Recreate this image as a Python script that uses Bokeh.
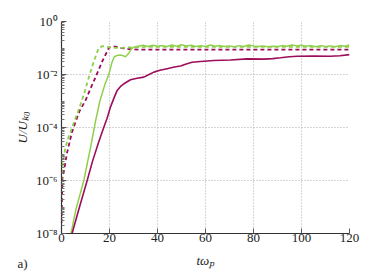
import numpy as np
from bokeh.plotting import figure
from bokeh.models import FixedTicker, CustomJSTickFormatter, Title, Range1d
from bokeh.embed import file_html
from bokeh.resources import INLINE

# ---- data (log10 of U/U_k0) ----
t_green_solid = [3.5, 6, 9.3, 12, 14.2, 16, 18, 19.7, 21, 22, 23.5, 25, 26.7, 28, 29, 30,
                 32, 34, 36, 38, 40, 42, 44, 46, 48, 50, 52, 54, 56, 58, 60, 62, 64, 66, 68,
                 70, 72, 74, 76, 78, 80, 82, 84, 86, 88, 90, 92, 94, 96, 98, 100, 102, 104,
                 106, 108, 110, 112, 114, 116, 118, 120]
lg_green_solid = [-8.2, -7.1, -6.0, -4.8, -3.75, -3.0, -2.4, -2.0, -1.55, -1.33, -1.27, -1.27,
                  -1.33, -1.2, -1.05, -0.97,
                  -0.93, -0.90, -0.94, -0.90, -0.93, -0.91, -0.94, -0.89, -0.93, -0.88, -0.92,
                  -0.90, -0.94, -0.91, -0.94, -0.89, -0.93, -0.91, -0.94, -0.92, -0.95, -0.91,
                  -0.94, -0.89, -0.92, -0.94, -0.92, -0.95, -0.93, -0.94, -0.91, -0.93, -0.89,
                  -0.92, -0.90, -0.93, -0.91, -0.95, -0.91, -0.94, -0.92, -0.95, -0.91, -0.93,
                  -0.89]

t_mag_solid = [4.0, 4.4, 7.5, 10.7, 13, 15.5, 17.6, 19, 20.4, 21.8, 23.2, 24.6, 26, 28.75,
               31.5, 34.3, 36.5, 38.5, 41, 44, 47, 49.6, 52, 54.4, 57.9, 63.5, 70.4, 77.4,
               84.3, 88, 91.25, 95, 98.2, 105, 112, 116, 120]
lg_mag_solid = [-8.15, -8.0, -7.0, -6.0, -5.25, -4.55, -4.0, -3.65, -3.23, -2.9, -2.6, -2.45,
                -2.35, -2.2, -2.14, -2.1, -2.0, -1.91, -1.84, -1.78, -1.72, -1.68, -1.6,
                -1.54, -1.51, -1.47, -1.45, -1.41, -1.42, -1.40, -1.37, -1.33, -1.31, -1.30,
                -1.31, -1.29, -1.25]

t_mag_dash = [0, 0.2, 0.4, 1.1, 2.2, 4.3, 6.4, 7.5, 9.9, 12, 14.2, 17, 19.7, 21, 22.5, 25,
              28, 32, 50, 80, 120]
lg_mag_dash = [-7.6, -6.6, -5.9, -5.6, -5.0, -4.2, -3.65, -3.38, -3.0, -2.55, -2.1, -1.5,
               -1.0, -0.94, -0.95, -1.0, -1.04, -1.06, -1.06, -1.06, -1.06]

t_green_dash = [0, 0.5, 1.5, 2.9, 5, 7.5, 9.5, 11.4, 13.5, 15.5, 17, 18.5, 21, 24, 28, 35,
                60, 90, 120]
lg_green_dash = [-6.0, -5.4, -4.8, -4.37, -3.85, -3.25, -2.7, -2.1, -1.5, -1.0, -0.93, -0.95,
                 -0.99, -1.0, -0.98, -0.96, -0.96, -0.96, -0.96]

x_ticks = [0, 20, 40, 60, 80, 100, 120]
y_major_exp = [0, -2, -4, -6, -8]

MAG = "#9c0d5a"
GRN = "#8fd04b"
FONT = "serif"

p = figure(width=374, height=280, output_backend="svg", toolbar_location=None,
           y_axis_type="log", x_range=Range1d(0, 120), y_range=Range1d(1e-8, 1.0),
           min_border_left=61, min_border_right=25, min_border_top=21, min_border_bottom=47)
p.outline_line_color = None
p.background_fill_color = "white"

p.line(t_mag_dash, 10.0 ** np.array(lg_mag_dash), color=MAG, line_width=1.8, line_dash="4 3")
p.line(t_green_dash, 10.0 ** np.array(lg_green_dash), color=GRN, line_width=1.8, line_dash="4 3")
p.line(t_green_solid, 10.0 ** np.array(lg_green_solid), color=GRN, line_width=1.5)
p.line(t_mag_solid, 10.0 ** np.array(lg_mag_solid), color=MAG, line_width=1.6)

minor = []
for e in range(-8, 0):
    for k in range(1, 10):
        if k == 1 and e % 2 == 0:
            continue
        minor.append(k * 10.0 ** e)
p.yaxis.ticker = FixedTicker(ticks=[10.0 ** e for e in y_major_exp], minor_ticks=minor)
p.xaxis.ticker = FixedTicker(ticks=x_ticks, minor_ticks=[])

p.yaxis.formatter = CustomJSTickFormatter(code="""
const e = Math.round(Math.log10(tick));
const sup = {'0':'\u2070','1':'\u00b9','2':'\u00b2','3':'\u00b3','4':'\u2074','5':'\u2075',
             '6':'\u2076','7':'\u2077','8':'\u2078','9':'\u2079','-':'\u207b'};
return '10' + String(e).split('').map(c => sup[c]).join('');
""")

for ax in (p.xaxis[0], p.yaxis[0]):
    ax.axis_line_color = "#333333"
    ax.axis_line_width = 1.2
    ax.major_tick_in = 5
    ax.major_tick_out = 0
    ax.minor_tick_in = 3
    ax.minor_tick_out = 0
    ax.major_tick_line_color = "#555555"
    ax.minor_tick_line_color = "#777777"
    ax.major_label_text_font = FONT
    ax.major_label_text_font_size = "13px"
    ax.major_label_text_color = "#222222"
    ax.axis_label_text_font = FONT
    ax.axis_label_text_font_size = "13px"
    ax.axis_label_text_font_style = "italic"
    ax.axis_label_text_color = "#222222"

p.xaxis.axis_label = "tω\u209a"
p.yaxis.axis_label = "U/U\u2096\u2080"
p.xaxis.major_label_standoff = 0
p.xaxis.axis_label_standoff = 8
p.yaxis.major_label_standoff = 4
p.yaxis.axis_label_standoff = 3

for g in (p.xgrid[0], p.ygrid[0]):
    g.grid_line_color = "#aaaaaa"
    g.grid_line_dash = "1 2"
    g.grid_line_width = 1

tag = Title(text="a)", align="left", offset=-44, standoff=-30, vertical_align="top",
            text_font=FONT, text_font_size="13px", text_font_style="normal",
            text_color="#222222")
p.add_layout(tag, "below")

open("out.html", "w").write(file_html(p, INLINE))
